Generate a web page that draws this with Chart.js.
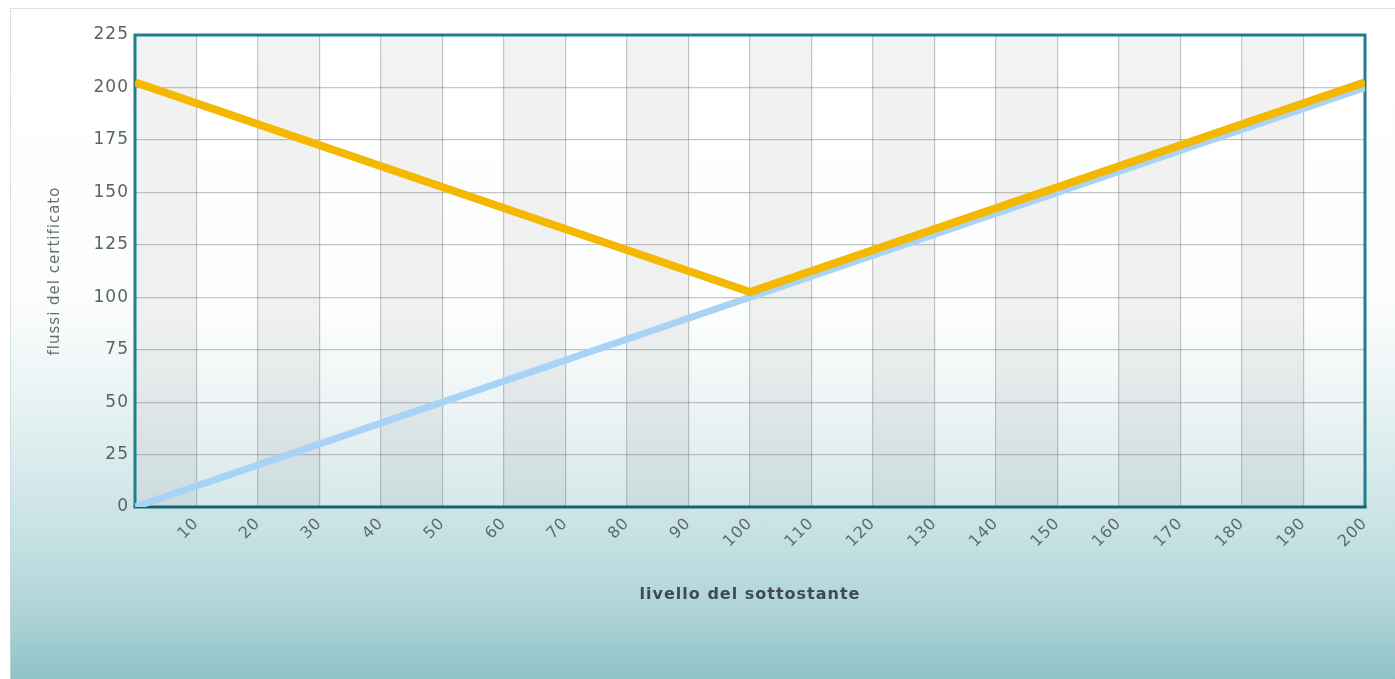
<!DOCTYPE html>
<html>
<head>
<meta charset="utf-8">
<script src="https://cdn.jsdelivr.net/npm/chart.js@4.4.1/dist/chart.umd.min.js"></script>
<style>
  html, body { margin: 0; padding: 0; background: #ffffff; width: 1395px; height: 679px; overflow: hidden; }
  #panel {
    position: absolute; left: 10px; top: 8px; width: 1385px; height: 671px;
    background: linear-gradient(to bottom,
      #ffffff 0px, #fcfdfd 290px, #ebf4f5 380px, #d6e9eb 470px,
      #bddcdf 560px, #a6cfd3 625px, #8fc2c7 671px);
    box-shadow: inset 1px 1px 0 rgba(200, 214, 216, 0.7);
  }
  #wrap { position: absolute; left: 0; top: 0; width: 1395px; height: 679px; }
</style>
</head>
<body>
<div id="panel"></div>
<div id="wrap"><canvas id="c" width="1395" height="679"></canvas></div>
<script>
// Livello del sottostante (asse x) e flussi (asse y)
const livelli = [0, 100, 200];
const flussiCertificato = [202.5, 102.5, 202.5];
const flussiSottostante = [0, 100, 200];

// Tacche degli assi
const xTickValues = [0, 10, 20, 30, 40, 50, 60, 70, 80, 90, 100, 110, 120, 130, 140, 150, 160, 170, 180, 190, 200];
const yTickValues = [0, 25, 50, 75, 100, 125, 150, 175, 200, 225];

const FONT = '"DejaVu Sans", Verdana, sans-serif';
const SPACING = '1px';

// Spaziatura leggermente larga dei caratteri su tutti i testi del grafico
const letterSpacing = {
  id: 'letterSpacing',
  beforeUpdate(chart) { chart.ctx.letterSpacing = SPACING; },
  beforeLayout(chart) { chart.ctx.letterSpacing = SPACING; },
  beforeDraw(chart) { chart.ctx.letterSpacing = SPACING; }
};

// Sfondo dell'area del grafico: sfumatura verticale e colonne alterne
const plotBackground = {
  id: 'plotBackground',
  beforeDraw(chart) {
    const { ctx, chartArea: a, scales: { x } } = chart;
    ctx.save();
    const g = ctx.createLinearGradient(0, a.top, 0, a.bottom);
    g.addColorStop(0, '#ffffff');
    g.addColorStop(0.6, '#fcfdfd');
    g.addColorStop(0.8, '#ebf3f4');
    g.addColorStop(1, '#d6e8ea');
    ctx.fillStyle = g;
    ctx.fillRect(a.left, a.top, a.width, a.height);
    ctx.fillStyle = 'rgba(0, 0, 0, 0.05)';
    for (let i = 0; i < xTickValues.length - 1; i += 2) {
      const x0 = x.getPixelForValue(xTickValues[i]);
      const x1 = x.getPixelForValue(xTickValues[i + 1]);
      ctx.fillRect(x0, a.top, x1 - x0, a.height);
    }
    ctx.restore();
  },
  beforeDatasetsDraw(chart) {
    const { ctx, chartArea: a } = chart;
    ctx.save();
    ctx.lineWidth = 3;
    ctx.strokeStyle = '#1f7f8a';
    ctx.beginPath();
    ctx.moveTo(a.left, a.bottom);
    ctx.lineTo(a.left, a.top);
    ctx.lineTo(a.right, a.top);
    ctx.lineTo(a.right, a.bottom);
    ctx.stroke();
    ctx.strokeStyle = '#17636e';
    ctx.beginPath();
    ctx.moveTo(a.left - 1.5, a.bottom);
    ctx.lineTo(a.right + 1.5, a.bottom);
    ctx.stroke();
    ctx.restore();
  }
};

new Chart(document.getElementById('c'), {
  type: 'line',
  data: {
    datasets: [
      {
        label: 'flussi del certificato',
        data: livelli.map((v, i) => ({ x: v, y: flussiCertificato[i] })),
        borderColor: '#f4b800',
        borderWidth: 8,
        pointRadius: 0,
        borderCapStyle: 'butt',
        borderJoinStyle: 'round',
        tension: 0
      },
      {
        label: 'sottostante',
        data: livelli.map((v, i) => ({ x: v, y: flussiSottostante[i] })),
        borderColor: '#a9d2f7',
        borderWidth: 7,
        pointRadius: 0,
        tension: 0
      }
    ]
  },
  options: {
    responsive: false,
    animation: false,
    events: [],
    layout: { padding: { left: 0, right: 30, top: 35, bottom: 0 } },
    plugins: { legend: { display: false }, tooltip: { enabled: false } },
    scales: {
      x: {
        type: 'linear',
        min: 0, max: 200,
        afterBuildTicks(scale) { scale.ticks = xTickValues.map(v => ({ value: v })); },
        afterFit(scale) { scale.height = 172; },
        grid: { color: 'rgba(120, 120, 120, 0.42)', lineWidth: 1.2, drawTicks: false },
        border: { display: false },
        ticks: {
          autoSkip: false,
          minRotation: 45, maxRotation: 45,
          padding: 7,
          color: '#5d6a6c',
          font: { family: FONT, size: 16 },
          callback: v => (v === 0 ? '' : String(v))
        },
        title: {
          display: true,
          text: 'livello del sottostante',
          color: '#3f4b4f',
          font: { family: FONT, size: 16, weight: 'bold' },
          padding: { top: 0, bottom: 75 }
        }
      },
      y: {
        type: 'linear',
        min: 0, max: 225,
        afterBuildTicks(scale) { scale.ticks = yTickValues.map(v => ({ value: v })); },
        afterFit(scale) { scale.width = 135; },
        grid: { color: 'rgba(120, 120, 120, 0.42)', lineWidth: 1.2, drawTicks: false },
        border: { display: false },
        ticks: {
          padding: 6,
          color: '#5d6264',
          font: { family: FONT, size: 17 }
        },
        title: {
          display: true,
          text: 'flussi del certificato',
          color: '#666c6e',
          font: { family: FONT, size: 15 },
          padding: { top: 46, bottom: 0 }
        }
      }
    }
  },
  plugins: [letterSpacing, plotBackground]
});
</script>
</body>
</html>
